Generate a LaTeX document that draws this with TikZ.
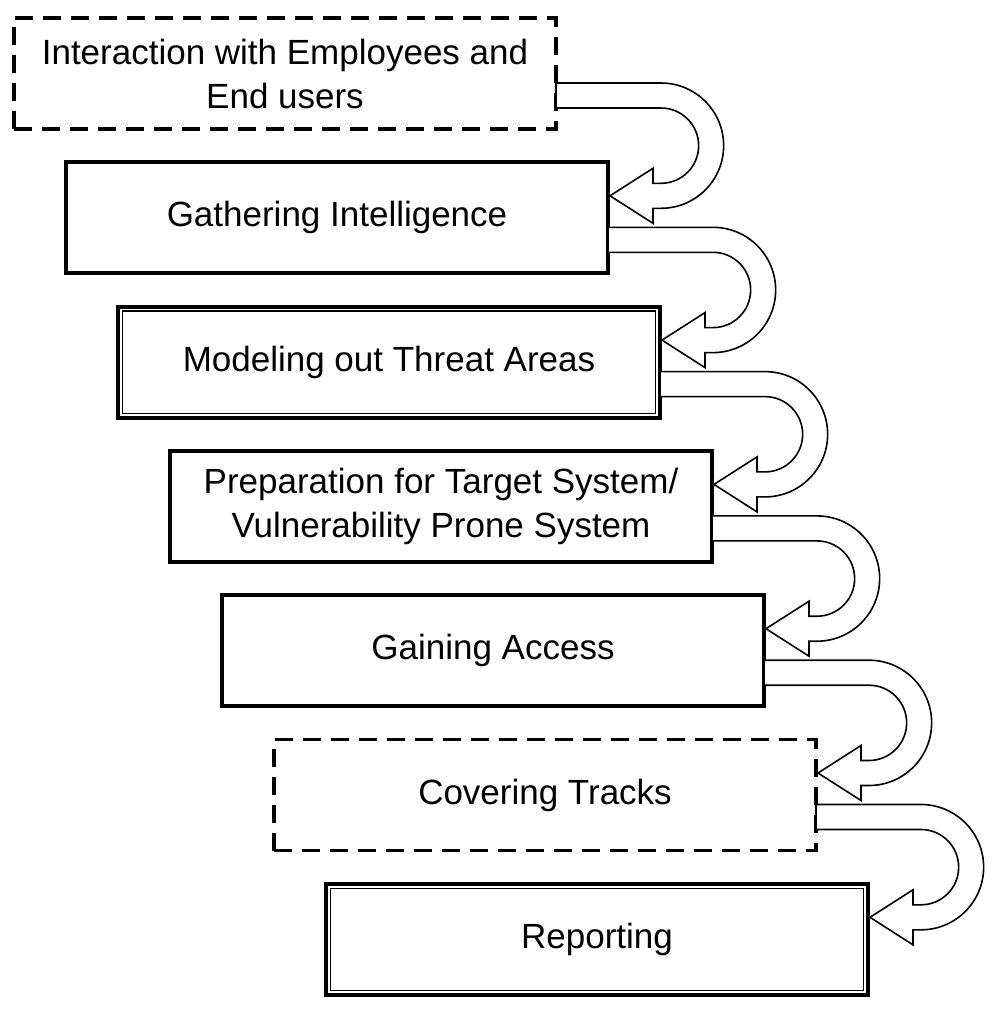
\documentclass[tikz,border=0pt]{standalone}
\usepackage{fontspec}
\setmainfont{Liberation Sans}
\usetikzlibrary{calc}
\tikzset{
	stagebox/.style={draw, line width=2pt, minimum width=271pt, minimum height=55.5pt,
		inner sep=0pt, outer sep=0pt, align=center, font=\fontsize{17.5}{22}\selectfont}
}
\tikzset{
	dashbox/.style={stagebox, line width=1.8pt, dash pattern=on 9pt off 5pt}
}
\tikzset{
	innerline/.style={line width=0.6pt}
}
\tikzset{
	uarrow/.style={draw, line width=0.8pt, fill=white, line join=miter}
}
% U-turn block arrow from the right side of #1 to the right side of #2
\newcommand{\uturn}[2]{%
	\draw[uarrow] ($(#1.east)+(0,-4.75pt)$) -- ++(52.5pt,0)
		arc[start angle=90, end angle=-90, radius=31.325pt]
		-- ($(#2.east)+(22.5pt,4.75pt)$) -- ($(#2.east)+(22.5pt,-2.75pt)$)
		-- ($(#2.east)+(1pt,11pt)$)
		-- ($(#2.east)+(22.5pt,24.75pt)$) -- ($(#2.east)+(22.5pt,17.25pt)$) -- ++(4pt,0)
		arc[start angle=-90, end angle=90, radius=18.825pt]
		-- ($(#1.east)+(0,-17.25pt)$) -- cycle;
}

\begin{document}
\begin{tikzpicture}
	\useasboundingbox (0,0) rectangle (501pt,-507pt);
	\node[dashbox] (interact) at (142.5pt,-36.75pt) {Interaction with Employees and\\End users};
	\node[stagebox] (gather) at (168.5pt,-108.9pt) {Gathering Intelligence};
	\node[stagebox] (model) at (194.5pt,-181.05pt) {Modeling out Threat Areas};
	\node[stagebox] (prep) at (220.5pt,-253.2pt) {Preparation for Target System/\\Vulnerability Prone System};
	\node[stagebox] (gain) at (246.5pt,-325.35pt) {Gaining Access};
	\node[dashbox] (cover) at (272.5pt,-397.5pt) {Covering Tracks};
	\node[stagebox] (report) at (298.5pt,-469.65pt) {Reporting};
	\draw[innerline] ([shift={(2.2pt,-2.2pt)}]model.north west) rectangle ([shift={(-2.2pt,2.2pt)}]model.south east);
	\draw[innerline] ([shift={(2.2pt,-2.2pt)}]report.north west) rectangle ([shift={(-2.2pt,2.2pt)}]report.south east);
	\uturn{interact}{gather}
	\uturn{gather}{model}
	\uturn{model}{prep}
	\uturn{prep}{gain}
	\uturn{gain}{cover}
	\uturn{cover}{report}
\end{tikzpicture}
\end{document}
